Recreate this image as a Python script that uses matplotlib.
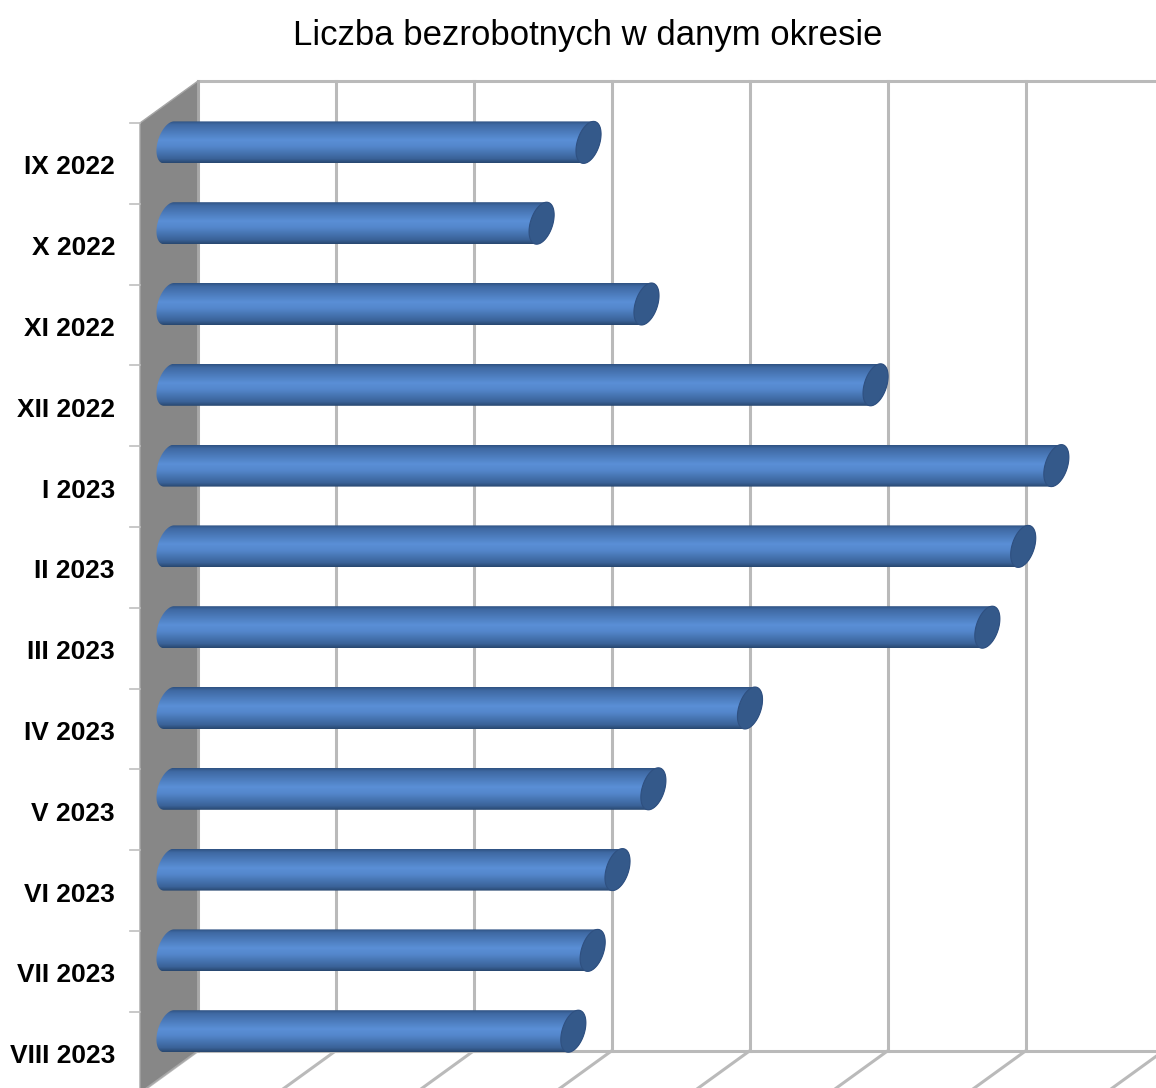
import numpy as np
import matplotlib.pyplot as plt
from matplotlib.path import Path
from matplotlib.patches import PathPatch, Polygon
from matplotlib.colors import LinearSegmentedColormap

# data
months = ['IX 2022', 'X 2022', 'XI 2022', 'XII 2022', 'I 2023', 'II 2023',
          'III 2023', 'IV 2023', 'V 2023', 'VI 2023', 'VII 2023', 'VIII 2023']
unemployed = [304, 270, 346, 512, 643, 619, 593, 421, 351, 325, 307, 293]
grid_ticks = [0, 100, 200, 300, 400, 500, 600, 700]
title = 'Liczba bezrobotnych w danym okresie'

plt.rcParams['font.family'] = ['Liberation Sans', 'DejaVu Sans']

# scale: pixels per value unit and per category row
PX = 1.38
ROW = 80.8
DX = 58 / PX          # depth offset along x (value units)
DY = -42 / ROW        # depth offset along y (rows)

fig = plt.figure(figsize=(11.56, 10.88), dpi=100)
ax = fig.add_axes([0, 0, 1, 1])
ax.set_axis_off()
n = len(months)
xmin, xmax = -140 / PX, (1156 - 140) / PX
ymin, ymax = -0.5 - 123 / ROW, -0.5 + (1088 - 123) / ROW

grid_col = '#bababa'
# back wall gridlines
top, bot = -0.5 + DY, n - 0.5 + DY
for g in grid_ticks:
    ax.plot([g + DX, g + DX], [top, bot], color=grid_col, lw=2.2, zorder=1)
    ax.plot([g + DX, g], [bot, n - 0.5], color=grid_col, lw=2.2, zorder=1)
ax.plot([DX, xmax + 50], [top, top], color=grid_col, lw=2.2, zorder=1)
ax.plot([DX, xmax + 50], [bot, bot], color=grid_col, lw=2.2, zorder=1)

# left wall
wall = Polygon([(0, -0.5), (DX, top), (DX, bot), (0, n - 0.5)], closed=True,
               facecolor='#878787', edgecolor='#a6a6a6', lw=1, zorder=2)
ax.add_patch(wall)
ax.plot([DX, DX], [top, bot], color='#a8a8a8', lw=2, zorder=2)

# tick marks
for i in range(n + 1):
    ax.plot([-10 / PX, 0], [i - 0.5, i - 0.5], color='#bfbfbf', lw=1.2, zorder=2)

# labels
for i, m in enumerate(months):
    ax.text(-25 / PX, i + 4 / ROW, m, ha='right', va='center', fontsize=19,
            fontweight='bold', color='black', zorder=5)

# cylinders
cmap = LinearSegmentedColormap.from_list('cyl', [
    (0.0, '#2f5282'), (0.08, '#3f69a3'), (0.45, '#5a8fd6'),
    (0.6, '#5487cc'), (0.9, '#3a6298'), (1.0, '#28476f')])
grad = np.linspace(0, 1, 200).reshape(-1, 1)
a, b, sk = 11.5, 21.0, -5.0


def ell(xc, yc, t):
    return np.column_stack([xc + (a * np.cos(t) + sk * np.sin(t)) / PX,
                            yc + b * np.sin(t) / ROW])


for i, v in enumerate(unemployed):
    yc = i + DY / 2
    x0 = DX / 2
    x1 = v + DX / 2
    left = ell(x0, yc, np.linspace(1.5 * np.pi, 0.5 * np.pi, 60))
    right = ell(x1, yc, np.linspace(0.5 * np.pi, -0.5 * np.pi, 60))
    verts = np.vstack([left, right, left[:1]])
    path = Path(verts)
    patch = PathPatch(path, facecolor='none', edgecolor='none', transform=ax.transData)
    ax.add_patch(patch)
    im = ax.imshow(grad, cmap=cmap, aspect='auto', zorder=3,
                   extent=[x0 - 20 / PX, x1 + 20 / PX, yc + b / ROW, yc - b / ROW],
                   interpolation='bilinear')
    im.set_clip_path(patch)
    cap = ell(x1, yc, np.linspace(0, 2 * np.pi, 100))
    ax.add_patch(Polygon(cap, closed=True, facecolor='#34598a',
                         edgecolor='#2f5080', lw=0.8, zorder=4))

ax.set_xlim(xmin, xmax)
ax.set_ylim(ymax, ymin)

fig.text(588 / 1156, 1 - 36 / 1088, title, ha='center', va='center', fontsize=25)

fig.savefig('out.png', dpi=100)
